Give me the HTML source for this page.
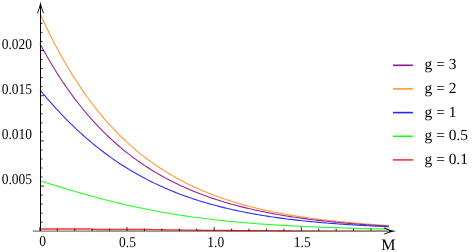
<!DOCTYPE html><html><head><meta charset="utf-8"><style>
html,body{margin:0;padding:0;background:#fff}
#c{position:relative;width:472px;height:252px;overflow:hidden;font-family:"Liberation Serif",serif;color:#000}
text{font-family:"Liberation Serif",serif;fill:#000;text-rendering:geometricPrecision}
svg{will-change:transform}
</style></head><body><div id="c">
<svg width="472" height="252" viewBox="0 0 472 252" style="position:absolute;left:0;top:0">
<rect width="472" height="252" fill="#fff"/>
<defs><linearGradient id="rg" gradientUnits="userSpaceOnUse" x1="40" y1="0" x2="389" y2="0"><stop offset="0" stop-color="#ff3333"/><stop offset="0.6" stop-color="#ff3333"/><stop offset="0.85" stop-color="#ff3333" stop-opacity="0.45"/><stop offset="1" stop-color="#ff3333" stop-opacity="0.3"/></linearGradient></defs>
<path d="M39.9,13.20 L40.8,15.20 L42.8,19.57 L44.8,23.86 L46.8,28.06 L48.8,32.18 L50.8,36.21 L52.8,40.16 L54.8,44.04 L56.8,47.84 L58.8,51.56 L60.8,55.20 L62.8,58.78 L64.8,62.28 L66.8,65.71 L68.8,69.07 L70.8,72.37 L72.8,75.60 L74.8,78.76 L76.8,81.86 L78.8,84.90 L80.8,87.88 L82.8,90.80 L84.8,93.66 L86.8,96.46 L88.8,99.20 L90.8,101.89 L92.8,104.53 L94.8,107.11 L96.8,109.65 L98.8,112.13 L100.8,114.56 L102.8,116.94 L104.8,119.27 L106.8,121.56 L108.8,123.80 L110.8,125.99 L112.8,128.14 L114.8,130.25 L116.8,132.32 L118.8,134.34 L120.8,136.32 L122.8,138.26 L124.8,140.17 L126.8,142.03 L128.8,143.86 L130.8,145.65 L132.8,147.40 L134.8,149.12 L136.8,150.80 L138.8,152.45 L140.8,154.07 L142.8,155.65 L144.8,157.20 L146.8,158.72 L148.8,160.21 L150.8,161.67 L152.8,163.10 L154.8,164.50 L156.8,165.87 L158.8,167.22 L160.8,168.53 L162.8,169.82 L164.8,171.09 L166.8,172.32 L168.8,173.54 L170.8,174.73 L172.8,175.89 L174.8,177.03 L176.8,178.15 L178.8,179.24 L180.8,180.31 L182.8,181.36 L184.8,182.39 L186.8,183.40 L188.8,184.39 L190.8,185.35 L192.8,186.30 L194.8,187.23 L196.8,188.14 L198.8,189.03 L200.8,189.90 L202.8,190.75 L204.8,191.59 L206.8,192.41 L208.8,193.21 L210.8,194.00 L212.8,194.77 L214.8,195.53 L216.8,196.26 L218.8,196.99 L220.8,197.70 L222.8,198.39 L224.8,199.07 L226.8,199.74 L228.8,200.39 L230.8,201.03 L232.8,201.66 L234.8,202.27 L236.8,202.87 L238.8,203.46 L240.8,204.04 L242.8,204.60 L244.8,205.15 L246.8,205.69 L248.8,206.22 L250.8,206.74 L252.8,207.25 L254.8,207.75 L256.8,208.24 L258.8,208.72 L260.8,209.18 L262.8,209.64 L264.8,210.09 L266.8,210.53 L268.8,210.96 L270.8,211.38 L272.8,211.80 L274.8,212.20 L276.8,212.60 L278.8,212.98 L280.8,213.36 L282.8,213.74 L284.8,214.10 L286.8,214.46 L288.8,214.81 L290.8,215.15 L292.8,215.48 L294.8,215.81 L296.8,216.13 L298.8,216.45 L300.8,216.75 L302.8,217.05 L304.8,217.35 L306.8,217.64 L308.8,217.92 L310.8,218.20 L312.8,218.47 L314.8,218.74 L316.8,219.00 L318.8,219.25 L320.8,219.50 L322.8,219.74 L324.8,219.98 L326.8,220.22 L328.8,220.45 L330.8,220.67 L332.8,220.89 L334.8,221.11 L336.8,221.32 L338.8,221.52 L340.8,221.73 L342.8,221.92 L344.8,222.12 L346.8,222.31 L348.8,222.49 L350.8,222.67 L352.8,222.85 L354.8,223.03 L356.8,223.20 L358.8,223.36 L360.8,223.53 L362.8,223.69 L364.8,223.84 L366.8,224.00 L368.8,224.15 L370.8,224.29 L372.8,224.44 L374.8,224.58 L376.8,224.72 L378.8,224.85 L380.8,224.98 L382.8,225.11 L384.8,225.24 L386.8,225.36 L388.8,225.48 L388.8,225.48" fill="none" stroke="#ff9a36" stroke-width="1.1" stroke-linejoin="round"/>
<path d="M39.9,43.58 L40.8,45.26 L42.8,48.94 L44.8,52.55 L46.8,56.08 L48.8,59.54 L50.8,62.94 L52.8,66.27 L54.8,69.53 L56.8,72.72 L58.8,75.86 L60.8,78.93 L62.8,81.94 L64.8,84.90 L66.8,87.79 L68.8,90.63 L70.8,93.41 L72.8,96.14 L74.8,98.81 L76.8,101.43 L78.8,104.00 L80.8,106.52 L82.8,108.99 L84.8,111.41 L86.8,113.78 L88.8,116.11 L90.8,118.39 L92.8,120.63 L94.8,122.82 L96.8,124.97 L98.8,127.07 L100.8,129.14 L102.8,131.17 L104.8,133.15 L106.8,135.10 L108.8,137.01 L110.8,138.88 L112.8,140.71 L114.8,142.51 L116.8,144.27 L118.8,146.00 L120.8,147.70 L122.8,149.36 L124.8,150.99 L126.8,152.58 L128.8,154.15 L130.8,155.68 L132.8,157.19 L134.8,158.67 L136.8,160.11 L138.8,161.53 L140.8,162.92 L142.8,164.29 L144.8,165.62 L146.8,166.93 L148.8,168.22 L150.8,169.48 L152.8,170.71 L154.8,171.92 L156.8,173.11 L158.8,174.28 L160.8,175.42 L162.8,176.54 L164.8,177.63 L166.8,178.71 L168.8,179.76 L170.8,180.80 L172.8,181.81 L174.8,182.80 L176.8,183.78 L178.8,184.73 L180.8,185.67 L182.8,186.59 L184.8,187.49 L186.8,188.37 L188.8,189.24 L190.8,190.08 L192.8,190.92 L194.8,191.73 L196.8,192.53 L198.8,193.31 L200.8,194.08 L202.8,194.83 L204.8,195.57 L206.8,196.30 L208.8,197.00 L210.8,197.70 L212.8,198.38 L214.8,199.05 L216.8,199.70 L218.8,200.35 L220.8,200.98 L222.8,201.59 L224.8,202.20 L226.8,202.79 L228.8,203.37 L230.8,203.94 L232.8,204.50 L234.8,205.05 L236.8,205.58 L238.8,206.11 L240.8,206.62 L242.8,207.13 L244.8,207.63 L246.8,208.11 L248.8,208.59 L250.8,209.05 L252.8,209.51 L254.8,209.96 L256.8,210.40 L258.8,210.83 L260.8,211.25 L262.8,211.66 L264.8,212.07 L266.8,212.46 L268.8,212.85 L270.8,213.23 L272.8,213.61 L274.8,213.97 L276.8,214.33 L278.8,214.68 L280.8,215.03 L282.8,215.37 L284.8,215.70 L286.8,216.02 L288.8,216.34 L290.8,216.65 L292.8,216.95 L294.8,217.25 L296.8,217.55 L298.8,217.83 L300.8,218.11 L302.8,218.39 L304.8,218.66 L306.8,218.92 L308.8,219.18 L310.8,219.44 L312.8,219.68 L314.8,219.93 L316.8,220.17 L318.8,220.40 L320.8,220.63 L322.8,220.85 L324.8,221.07 L326.8,221.29 L328.8,221.50 L330.8,221.71 L332.8,221.91 L334.8,222.11 L336.8,222.30 L338.8,222.49 L340.8,222.68 L342.8,222.86 L344.8,223.04 L346.8,223.21 L348.8,223.38 L350.8,223.55 L352.8,223.71 L354.8,223.87 L356.8,224.03 L358.8,224.19 L360.8,224.34 L362.8,224.48 L364.8,224.63 L366.8,224.77 L368.8,224.91 L370.8,225.05 L372.8,225.18 L374.8,225.31 L376.8,225.44 L378.8,225.56 L380.8,225.68 L382.8,225.80 L384.8,225.92 L386.8,226.03 L388.8,226.15 L388.8,226.15" fill="none" stroke="#942494" stroke-width="1.1" stroke-linejoin="round"/>
<path d="M39.9,89.79 L40.8,90.88 L42.8,93.30 L44.8,95.68 L46.8,98.03 L48.8,100.35 L50.8,102.64 L52.8,104.89 L54.8,107.11 L56.8,109.30 L58.8,111.46 L60.8,113.59 L62.8,115.69 L64.8,117.76 L66.8,119.79 L68.8,121.80 L70.8,123.77 L72.8,125.72 L74.8,127.64 L76.8,129.53 L78.8,131.38 L80.8,133.21 L82.8,135.02 L84.8,136.79 L86.8,138.54 L88.8,140.25 L90.8,141.95 L92.8,143.61 L94.8,145.25 L96.8,146.86 L98.8,148.44 L100.8,150.00 L102.8,151.53 L104.8,153.04 L106.8,154.53 L108.8,155.98 L110.8,157.42 L112.8,158.83 L114.8,160.21 L116.8,161.58 L118.8,162.92 L120.8,164.23 L122.8,165.53 L124.8,166.80 L126.8,168.05 L128.8,169.27 L130.8,170.48 L132.8,171.66 L134.8,172.83 L136.8,173.97 L138.8,175.09 L140.8,176.19 L142.8,177.28 L144.8,178.34 L146.8,179.38 L148.8,180.41 L150.8,181.42 L152.8,182.40 L154.8,183.37 L156.8,184.33 L158.8,185.26 L160.8,186.18 L162.8,187.08 L164.8,187.96 L166.8,188.83 L168.8,189.68 L170.8,190.51 L172.8,191.33 L174.8,192.13 L176.8,192.92 L178.8,193.69 L180.8,194.45 L182.8,195.20 L184.8,195.93 L186.8,196.64 L188.8,197.34 L190.8,198.03 L192.8,198.70 L194.8,199.37 L196.8,200.01 L198.8,200.65 L200.8,201.27 L202.8,201.88 L204.8,202.48 L206.8,203.07 L208.8,203.64 L210.8,204.21 L212.8,204.76 L214.8,205.30 L216.8,205.83 L218.8,206.35 L220.8,206.86 L222.8,207.36 L224.8,207.85 L226.8,208.33 L228.8,208.80 L230.8,209.26 L232.8,209.71 L234.8,210.15 L236.8,210.59 L238.8,211.01 L240.8,211.43 L242.8,211.83 L244.8,212.23 L246.8,212.62 L248.8,213.00 L250.8,213.38 L252.8,213.74 L254.8,214.10 L256.8,214.45 L258.8,214.80 L260.8,215.14 L262.8,215.47 L264.8,215.79 L266.8,216.10 L268.8,216.41 L270.8,216.72 L272.8,217.01 L274.8,217.31 L276.8,217.59 L278.8,217.87 L280.8,218.14 L282.8,218.41 L284.8,218.67 L286.8,218.93 L288.8,219.18 L290.8,219.42 L292.8,219.66 L294.8,219.90 L296.8,220.13 L298.8,220.35 L300.8,220.57 L302.8,220.79 L304.8,221.00 L306.8,221.20 L308.8,221.41 L310.8,221.60 L312.8,221.80 L314.8,221.99 L316.8,222.17 L318.8,222.35 L320.8,222.53 L322.8,222.71 L324.8,222.88 L326.8,223.04 L328.8,223.20 L330.8,223.36 L332.8,223.52 L334.8,223.67 L336.8,223.82 L338.8,223.97 L340.8,224.11 L342.8,224.25 L344.8,224.39 L346.8,224.52 L348.8,224.65 L350.8,224.78 L352.8,224.91 L354.8,225.03 L356.8,225.15 L358.8,225.27 L360.8,225.38 L362.8,225.49 L364.8,225.60 L366.8,225.71 L368.8,225.82 L370.8,225.92 L372.8,226.02 L374.8,226.12 L376.8,226.22 L378.8,226.31 L380.8,226.40 L382.8,226.49 L384.8,226.58 L386.8,226.67 L388.8,226.75 L388.8,226.75" fill="none" stroke="#3030ff" stroke-width="1.1" stroke-linejoin="round"/>
<path d="M39.9,180.81 L40.8,181.09 L42.8,181.71 L44.8,182.33 L46.8,182.95 L48.8,183.57 L50.8,184.19 L52.8,184.80 L54.8,185.42 L56.8,186.03 L58.8,186.64 L60.8,187.25 L62.8,187.85 L64.8,188.45 L66.8,189.05 L68.8,189.65 L70.8,190.24 L72.8,190.83 L74.8,191.41 L76.8,191.99 L78.8,192.57 L80.8,193.15 L82.8,193.72 L84.8,194.28 L86.8,194.84 L88.8,195.40 L90.8,195.95 L92.8,196.50 L94.8,197.04 L96.8,197.58 L98.8,198.11 L100.8,198.64 L102.8,199.16 L104.8,199.68 L106.8,200.19 L108.8,200.69 L110.8,201.20 L112.8,201.69 L114.8,202.18 L116.8,202.67 L118.8,203.15 L120.8,203.62 L122.8,204.09 L124.8,204.55 L126.8,205.01 L128.8,205.46 L130.8,205.91 L132.8,206.35 L134.8,206.78 L136.8,207.21 L138.8,207.64 L140.8,208.05 L142.8,208.47 L144.8,208.87 L146.8,209.27 L148.8,209.67 L150.8,210.06 L152.8,210.44 L154.8,210.82 L156.8,211.19 L158.8,211.56 L160.8,211.92 L162.8,212.28 L164.8,212.63 L166.8,212.98 L168.8,213.32 L170.8,213.65 L172.8,213.98 L174.8,214.30 L176.8,214.62 L178.8,214.94 L180.8,215.25 L182.8,215.55 L184.8,215.85 L186.8,216.14 L188.8,216.43 L190.8,216.71 L192.8,216.99 L194.8,217.27 L196.8,217.54 L198.8,217.80 L200.8,218.06 L202.8,218.32 L204.8,218.57 L206.8,218.81 L208.8,219.06 L210.8,219.29 L212.8,219.53 L214.8,219.75 L216.8,219.98 L218.8,220.20 L220.8,220.42 L222.8,220.63 L224.8,220.84 L226.8,221.04 L228.8,221.24 L230.8,221.44 L232.8,221.63 L234.8,221.82 L236.8,222.01 L238.8,222.19 L240.8,222.37 L242.8,222.54 L244.8,222.72 L246.8,222.88 L248.8,223.05 L250.8,223.21 L252.8,223.37 L254.8,223.53 L256.8,223.68 L258.8,223.83 L260.8,223.97 L262.8,224.12 L264.8,224.26 L266.8,224.39 L268.8,224.53 L270.8,224.66 L272.8,224.79 L274.8,224.92 L276.8,225.04 L278.8,225.16 L280.8,225.28 L282.8,225.40 L284.8,225.51 L286.8,225.62 L288.8,225.73 L290.8,225.84 L292.8,225.94 L294.8,226.05 L296.8,226.15 L298.8,226.24 L300.8,226.34 L302.8,226.43 L304.8,226.53 L306.8,226.62 L308.8,226.70 L310.8,226.79 L312.8,226.88 L314.8,226.96 L316.8,227.04 L318.8,227.12 L320.8,227.19 L322.8,227.27 L324.8,227.34 L326.8,227.42 L328.8,227.49 L330.8,227.56 L332.8,227.63 L334.8,227.69 L336.8,227.76 L338.8,227.82 L340.8,227.88 L342.8,227.94 L344.8,228.00 L346.8,228.06 L348.8,228.12 L350.8,228.17 L352.8,228.23 L354.8,228.28 L356.8,228.33 L358.8,228.38 L360.8,228.43 L362.8,228.48 L364.8,228.53 L366.8,228.58 L368.8,228.62 L370.8,228.67 L372.8,228.71 L374.8,228.75 L376.8,228.79 L378.8,228.83 L380.8,228.87 L382.8,228.91 L384.8,228.95 L386.8,228.99 L388.8,229.02 L388.8,229.02" fill="none" stroke="#28ff28" stroke-width="1.1" stroke-linejoin="round"/>
<path d="M41.2,229.00 L42.8,229.00 L44.8,229.00 L46.8,229.00 L48.8,229.00 L50.8,229.00 L52.8,229.00 L54.8,229.00 L56.8,229.00 L58.8,229.00 L60.8,229.00 L62.8,229.00 L64.8,229.00 L66.8,229.00 L68.8,229.00 L70.8,229.00 L72.8,229.00 L74.8,229.00 L76.8,229.00 L78.8,229.00 L80.8,229.00 L82.8,229.00 L84.8,229.00 L86.8,229.00 L88.8,229.01 L90.8,229.10 L92.8,229.24 L94.8,229.38 L96.8,229.48 L98.8,229.50 L100.8,229.50 L102.8,229.50 L104.8,229.50 L106.8,229.50 L108.8,229.50 L110.8,229.50 L112.8,229.50 L114.8,229.50 L116.8,229.50 L118.8,229.50 L120.8,229.50 L122.8,229.50 L124.8,229.50 L126.8,229.50 L128.8,229.50 L130.8,229.50 L132.8,229.50 L134.8,229.50 L136.8,229.50 L138.8,229.50 L140.8,229.50 L142.8,229.50 L144.8,229.50 L146.8,229.50 L148.8,229.51 L150.8,229.53 L152.8,229.55 L154.8,229.57 L156.8,229.60 L158.8,229.63 L160.8,229.66 L162.8,229.70 L164.8,229.74 L166.8,229.78 L168.8,229.81 L170.8,229.85 L172.8,229.89 L174.8,229.92 L176.8,229.96 L178.8,229.99 L180.8,230.01 L182.8,230.04 L184.8,230.06 L186.8,230.09 L188.8,230.12 L190.8,230.14 L192.8,230.17 L194.8,230.19 L196.8,230.22 L198.8,230.24 L200.8,230.26 L202.8,230.29 L204.8,230.31 L206.8,230.33 L208.8,230.35 L210.8,230.37 L212.8,230.39 L214.8,230.40 L216.8,230.42 L218.8,230.43 L220.8,230.45 L222.8,230.46 L224.8,230.47 L226.8,230.49 L228.8,230.50 L230.8,230.51 L232.8,230.52 L234.8,230.54 L236.8,230.55 L238.8,230.56 L240.8,230.57 L242.8,230.58 L244.8,230.59 L246.8,230.60 L248.8,230.61 L250.8,230.62 L252.8,230.63 L254.8,230.64 L256.8,230.64 L258.8,230.65 L260.8,230.66 L262.8,230.67 L264.8,230.68 L266.8,230.69 L268.8,230.69 L270.8,230.70 L272.8,230.71 L274.8,230.72 L276.8,230.72 L278.8,230.73 L280.8,230.74 L282.8,230.75 L284.8,230.75 L286.8,230.76 L288.8,230.77 L290.8,230.77 L292.8,230.78 L294.8,230.78 L296.8,230.79 L298.8,230.79 L300.8,230.80 L302.8,230.80 L304.8,230.81 L306.8,230.81 L308.8,230.82 L310.8,230.82 L312.8,230.83 L314.8,230.83 L316.8,230.84 L318.8,230.84 L320.8,230.84 L322.8,230.85 L324.8,230.85 L326.8,230.86 L328.8,230.86 L330.8,230.87 L332.8,230.87 L334.8,230.87 L336.8,230.88 L338.8,230.88 L340.8,230.88 L342.8,230.89 L344.8,230.89 L346.8,230.90 L348.8,230.90 L350.8,230.90 L352.8,230.91 L354.8,230.91 L356.8,230.91 L358.8,230.92 L360.8,230.92 L362.8,230.92 L364.8,230.92 L366.8,230.93 L368.8,230.93 L370.8,230.93 L372.8,230.93 L374.8,230.94 L376.8,230.94 L378.8,230.94 L380.8,230.94 L382.8,230.95 L384.8,230.95 L386.8,230.95 L388.8,230.95" fill="none" stroke="url(#rg)" stroke-width="1.3" stroke-linejoin="round"/>
<line x1="32.8" y1="231.1" x2="390" y2="231.1" stroke="#000" stroke-opacity="0.54" stroke-width="1.15"/>
<line x1="40.5" y1="231.0" x2="40.5" y2="6" stroke="#000" stroke-width="1.0"/>
<rect x="39.4" y="227.3" width="0.8" height="3.5" fill="#000"/>
<line x1="57.28" y1="231" x2="57.28" y2="228.60" stroke="#000" stroke-width="0.8"/>
<line x1="74.71" y1="231" x2="74.71" y2="228.60" stroke="#000" stroke-width="0.8"/>
<line x1="92.14" y1="231" x2="92.14" y2="228.60" stroke="#000" stroke-width="0.8"/>
<line x1="109.57" y1="231" x2="109.57" y2="228.60" stroke="#000" stroke-width="0.8"/>
<line x1="127.00" y1="231" x2="127.00" y2="227.00" stroke="#000" stroke-width="0.8"/>
<line x1="144.43" y1="231" x2="144.43" y2="228.60" stroke="#000" stroke-width="0.8"/>
<line x1="161.86" y1="231" x2="161.86" y2="228.60" stroke="#000" stroke-width="0.8"/>
<line x1="179.29" y1="231" x2="179.29" y2="228.60" stroke="#000" stroke-width="0.8"/>
<line x1="196.72" y1="231" x2="196.72" y2="228.60" stroke="#000" stroke-width="0.8"/>
<line x1="214.15" y1="231" x2="214.15" y2="227.00" stroke="#000" stroke-width="0.8"/>
<line x1="231.58" y1="231" x2="231.58" y2="228.60" stroke="#000" stroke-width="0.8"/>
<line x1="249.01" y1="231" x2="249.01" y2="228.60" stroke="#000" stroke-width="0.8"/>
<line x1="266.44" y1="231" x2="266.44" y2="228.60" stroke="#000" stroke-width="0.8"/>
<line x1="283.87" y1="231" x2="283.87" y2="228.60" stroke="#000" stroke-width="0.8"/>
<line x1="301.30" y1="231" x2="301.30" y2="227.00" stroke="#000" stroke-width="0.8"/>
<line x1="318.73" y1="231" x2="318.73" y2="228.60" stroke="#000" stroke-width="0.8"/>
<line x1="336.16" y1="231" x2="336.16" y2="228.60" stroke="#000" stroke-width="0.8"/>
<line x1="353.59" y1="231" x2="353.59" y2="228.60" stroke="#000" stroke-width="0.8"/>
<line x1="371.02" y1="231" x2="371.02" y2="228.60" stroke="#000" stroke-width="0.8"/>
<line x1="40.5" y1="222.26" x2="42.60" y2="222.26" stroke="#000" stroke-width="0.8"/>
<line x1="40.5" y1="213.22" x2="42.60" y2="213.22" stroke="#000" stroke-width="0.8"/>
<line x1="40.5" y1="204.18" x2="42.60" y2="204.18" stroke="#000" stroke-width="0.8"/>
<line x1="40.5" y1="195.14" x2="42.60" y2="195.14" stroke="#000" stroke-width="0.8"/>
<line x1="40.5" y1="186.10" x2="44.00" y2="186.10" stroke="#000" stroke-width="0.8"/>
<line x1="40.5" y1="177.06" x2="42.60" y2="177.06" stroke="#000" stroke-width="0.8"/>
<line x1="40.5" y1="168.02" x2="42.60" y2="168.02" stroke="#000" stroke-width="0.8"/>
<line x1="40.5" y1="158.98" x2="42.60" y2="158.98" stroke="#000" stroke-width="0.8"/>
<line x1="40.5" y1="149.94" x2="42.60" y2="149.94" stroke="#000" stroke-width="0.8"/>
<line x1="40.5" y1="140.90" x2="44.00" y2="140.90" stroke="#000" stroke-width="0.8"/>
<line x1="40.5" y1="131.86" x2="42.60" y2="131.86" stroke="#000" stroke-width="0.8"/>
<line x1="40.5" y1="122.82" x2="42.60" y2="122.82" stroke="#000" stroke-width="0.8"/>
<line x1="40.5" y1="113.78" x2="42.60" y2="113.78" stroke="#000" stroke-width="0.8"/>
<line x1="40.5" y1="104.74" x2="42.60" y2="104.74" stroke="#000" stroke-width="0.8"/>
<line x1="40.5" y1="95.70" x2="44.00" y2="95.70" stroke="#000" stroke-width="0.8"/>
<line x1="40.5" y1="86.66" x2="42.60" y2="86.66" stroke="#000" stroke-width="0.8"/>
<line x1="40.5" y1="77.62" x2="42.60" y2="77.62" stroke="#000" stroke-width="0.8"/>
<line x1="40.5" y1="68.58" x2="42.60" y2="68.58" stroke="#000" stroke-width="0.8"/>
<line x1="40.5" y1="59.54" x2="42.60" y2="59.54" stroke="#000" stroke-width="0.8"/>
<line x1="40.5" y1="50.50" x2="44.00" y2="50.50" stroke="#000" stroke-width="0.8"/>
<line x1="40.5" y1="41.46" x2="42.60" y2="41.46" stroke="#000" stroke-width="0.8"/>
<line x1="40.5" y1="32.42" x2="42.60" y2="32.42" stroke="#000" stroke-width="0.8"/>
<line x1="40.5" y1="23.38" x2="42.60" y2="23.38" stroke="#000" stroke-width="0.8"/>
<path d="M40.5,1.5 C41,4.5 41.8,7 42.3,8.5 C42.8,10 43.3,11.5 44,12.9 L43,12.9 C42.5,11.5 41.8,9.5 41.1,7.8 L39.9,7.8 C39.2,9.5 38.5,11.5 38,12.9 L37,12.9 C37.7,11.5 38.2,10 38.7,8.5 C39.2,7 40,4.5 40.5,1.5 Z" fill="#000"/>
<path d="M396.4,231.1 C393,230.6 390.1,229.8 388.6,229.3 C387.1,228.8 385.6,228.3 384.2,227.6 L384.2,228.6 C385.6,229.1 387.6,229.8 389.3,230.5 L389.3,231.7 C387.6,232.4 385.6,233.1 384.2,233.6 L384.2,234.6 C385.6,233.9 387.1,233.4 388.6,232.9 C390.1,232.4 393,231.6 396.4,231.1Z" fill="#000"/>
<line x1="392.9" y1="65.3" x2="412.9" y2="65.3" stroke="#8c1a8c" stroke-width="1.6"/>
<line x1="392.9" y1="88.9" x2="412.9" y2="88.9" stroke="#ff9933" stroke-width="1.6"/>
<line x1="392.9" y1="112.6" x2="412.9" y2="112.6" stroke="#2424ff" stroke-width="1.6"/>
<line x1="392.9" y1="136.3" x2="412.9" y2="136.3" stroke="#1aff1a" stroke-width="1.6"/>
<line x1="392.9" y1="159.9" x2="412.9" y2="159.9" stroke="#ff3333" stroke-width="1.6"/>
<text transform="translate(32.1,49.40) scale(0.9,1)" font-size="15" text-anchor="end">0.020</text>
<text transform="translate(32.1,94.30) scale(0.9,1)" font-size="15" text-anchor="end">0.015</text>
<text transform="translate(32.1,139.20) scale(0.9,1)" font-size="15" text-anchor="end">0.010</text>
<text transform="translate(32.1,184.20) scale(0.9,1)" font-size="15" text-anchor="end">0.005</text>
<text transform="translate(42.5,246.00) scale(0.9,1)" font-size="15" text-anchor="middle">0</text>
<text transform="translate(127.5,247.00) scale(0.9,1)" font-size="15" text-anchor="middle">0.5</text>
<text transform="translate(215.7,247.00) scale(0.9,1)" font-size="15" text-anchor="middle">1.0</text>
<text transform="translate(302.3,247.00) scale(0.9,1)" font-size="15" text-anchor="middle">1.5</text>
<text transform="translate(388.3,249.90) scale(1.0,1)" font-size="16" text-anchor="middle">M</text>
<text transform="translate(424.6,69.40) scale(1.0,1)" font-size="15.4" text-anchor="start">g = 3</text>
<text transform="translate(424.6,93.00) scale(1.0,1)" font-size="15.4" text-anchor="start">g = 2</text>
<text transform="translate(424.6,116.70) scale(1.0,1)" font-size="15.4" text-anchor="start">g = 1</text>
<text transform="translate(424.6,140.40) scale(1.0,1)" font-size="15.4" text-anchor="start">g = 0.5</text>
<text transform="translate(424.6,164.00) scale(1.0,1)" font-size="15.4" text-anchor="start">g = 0.1</text>
</svg>
</div></body></html>
